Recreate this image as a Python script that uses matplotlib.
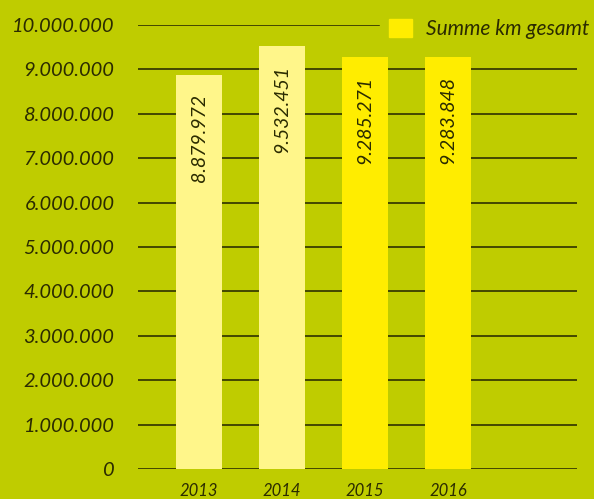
import matplotlib.pyplot as plt
from matplotlib.patches import Patch

jahre = ["2013", "2014", "2015", "2016"]
km_gesamt = [8879972, 9532451, 9285271, 9283848]
werte_text = ["8.879.972", "9.532.451", "9.285.271", "9.283.848"]
y_ticks = [0, 1000000, 2000000, 3000000, 4000000, 5000000,
           6000000, 7000000, 8000000, 9000000, 10000000]
y_tick_labels = ["0", "1.000.000", "2.000.000", "3.000.000", "4.000.000",
                 "5.000.000", "6.000.000", "7.000.000", "8.000.000",
                 "9.000.000", "10.000.000"]

bg = "#bfcc00"
hell = "#fff68a"
gelb = "#ffed00"
txt = "#2b2b00"
farben = [hell, hell, gelb, gelb]

plt.rcParams['font.family'] = ['Lato', 'DejaVu Sans']

fig = plt.figure(figsize=(5.94, 4.99), dpi=100, facecolor=bg)
ax = fig.add_axes([138/594, 30/499, 439/594, 444/499])
ax.set_facecolor(bg)

x = range(len(jahre))
bars = ax.bar(x, km_gesamt, width=0.554, color=farben, zorder=3)

ax.set_xlim(-0.735, 4.554)
ax.set_ylim(0, 10000000)
ax.set_yticks(y_ticks)
ax.set_yticklabels(y_tick_labels, fontsize=14.5, style='italic', color=txt)
ax.set_xticks(list(x))
ax.set_xticklabels(jahre, fontsize=12, style='italic', color=txt)
ax.tick_params(axis='both', length=0)
ax.tick_params(axis='y', pad=17)
ax.tick_params(axis='x', pad=10)
ax.yaxis.grid(True, color="#3a3d00", linewidth=1.3, zorder=1)
for s in ax.spines.values():
    s.set_visible(False)

for b, t in zip(bars, werte_text):
    ax.annotate(t, (b.get_x() + b.get_width() / 2, b.get_height()),
                xytext=(0, -14), textcoords='offset points',
                rotation=90, ha='center', va='top', fontsize=14,
                style='italic', color=txt, zorder=4)

leg = ax.legend(handles=[Patch(color=gelb, label="Summe km gesamt")],
                loc='upper left', bbox_to_anchor=(370/594, 1.0),
                bbox_transform=fig.transFigure, frameon=True,
                facecolor=bg, edgecolor=bg, framealpha=1.0,
                prop={'size': 15, 'style': 'italic'},
                handlelength=1.1, handleheight=0.95, borderpad=0.42,
                handletextpad=0.65)
for t in leg.get_texts():
    t.set_color(txt)
leg.set_zorder(5)

fig.savefig("out.png", dpi=100, facecolor=bg)
